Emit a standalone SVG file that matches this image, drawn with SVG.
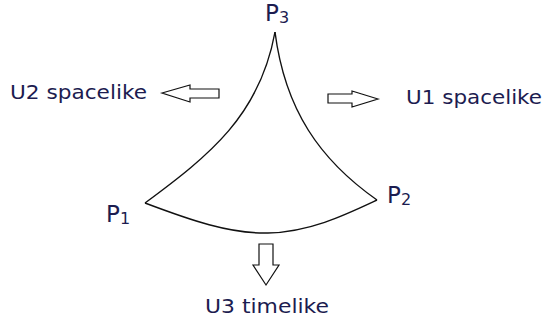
<svg xmlns="http://www.w3.org/2000/svg" width="543" height="324" viewBox="0 0 543 324">
<style>
.lbl{font-family:"DejaVu Sans",Verdana,sans-serif;fill:#1c1c50}
.p{font-size:23px}
.s{font-size:16px}
.u{font-size:19px}
.edge{fill:none;stroke:#111;stroke-width:1.4}
.arr{fill:#fff;stroke:#111;stroke-width:1.2;stroke-linejoin:miter}
</style>
<rect width="543" height="324" fill="#fff"/>
<g id="connectors">
<path class="edge" d="M145,203 C210,155 260,115 275,32"/>
<path class="edge" d="M275,32 C285,110 320,160 377,200"/>
<path class="edge" d="M145,203 C190,220 230,234 268,233 C310,232 345,215 377,200"/>
</g>
<g id="P3"><text class="lbl" x="265" y="21"><tspan class="p">P</tspan><tspan class="s" dy="2">3</tspan></text></g>
<g id="P1"><text class="lbl" x="106" y="222"><tspan class="p">P</tspan><tspan class="s" dy="2">1</tspan></text></g>
<g id="P2"><text class="lbl" x="387" y="203"><tspan class="p">P</tspan><tspan class="s" dy="2">2</tspan></text></g>
<g id="U2"><polygon class="arr" points="162,93 190,85 190,89 219,89 219,98 190,98 190,102"/><text class="lbl u" x="10" y="99" textLength="137" lengthAdjust="spacingAndGlyphs">U2 spacelike</text></g>
<g id="U1"><polygon class="arr" points="378,99 352,91 352,94 328,94 328,103 352,103 352,107"/><text class="lbl u" x="406" y="104" textLength="136" lengthAdjust="spacingAndGlyphs">U1 spacelike</text></g>
<g id="U3"><polygon class="arr" points="259,244 273,244 273,265 279,265 266,285 253,265 259,265"/><text class="lbl u" x="205" y="313" textLength="124" lengthAdjust="spacingAndGlyphs">U3 timelike</text></g>
</svg>
